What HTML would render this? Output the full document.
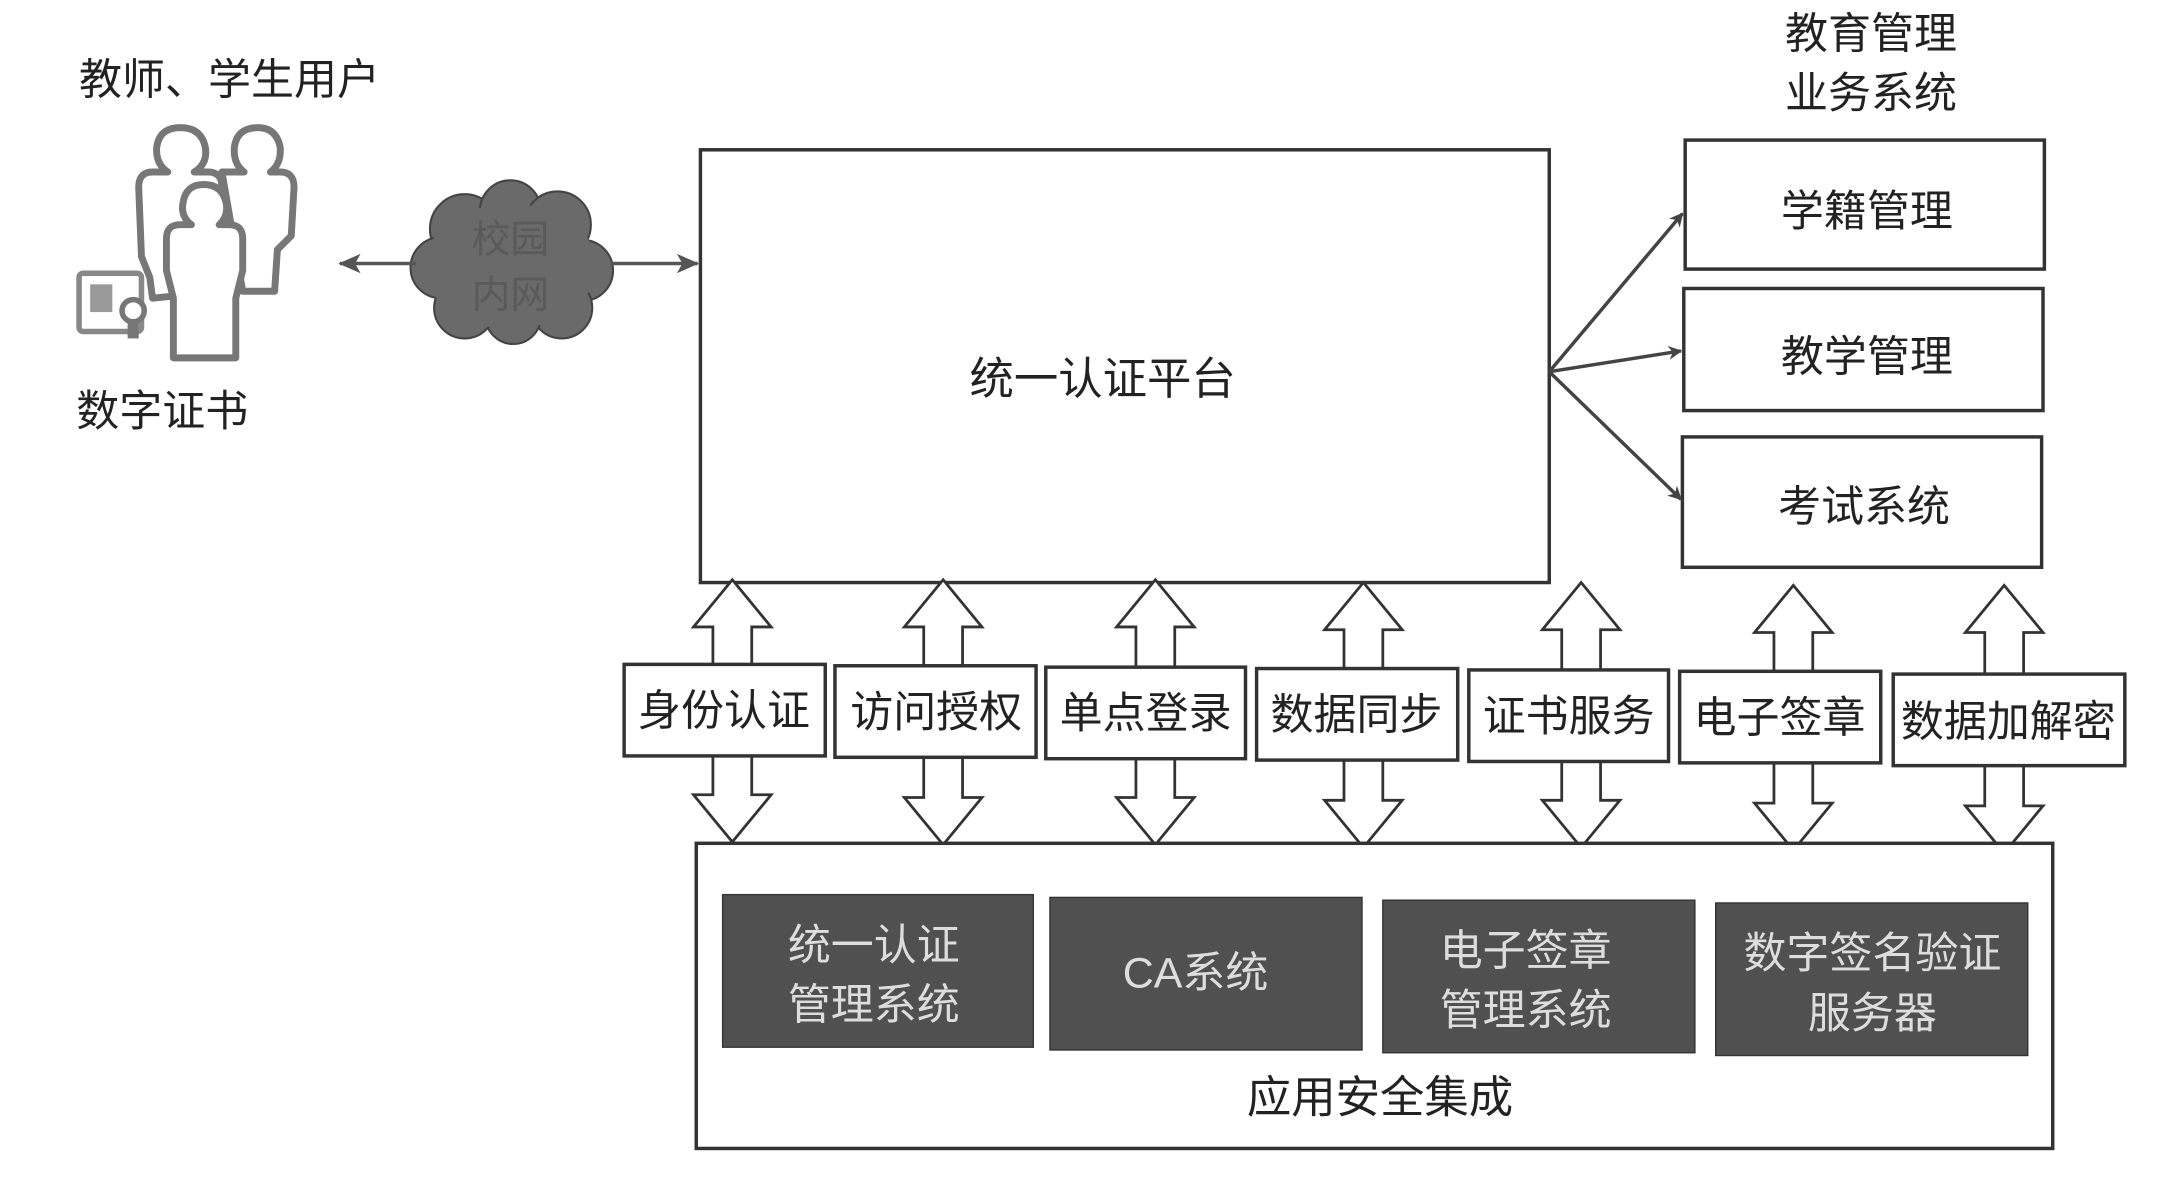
<!DOCTYPE html>
<html><head><meta charset="utf-8"><style>
html,body{margin:0;padding:0;background:#fff;}
svg{display:block;}
text{font-family:"Liberation Sans","Noto Sans CJK SC",sans-serif;}
</style></head><body>
<svg width="2172" height="1178" viewBox="0 0 1566 849.3" preserveAspectRatio="none" xmlns="http://www.w3.org/2000/svg">
<defs>
<marker id="ah" markerWidth="10" markerHeight="10" refX="9" refY="5" orient="auto" markerUnits="userSpaceOnUse">
<path d="M0,0 L10,5 L0,10 L3,5 Z" fill="#444"/></marker>
<marker id="ahs" markerWidth="16" markerHeight="14" refX="15" refY="7" orient="auto-start-reverse" markerUnits="userSpaceOnUse">
<path d="M0,0 L16,7 L0,14 L4,7 Z" fill="#555"/></marker>
</defs>
<text x="57" y="68" font-size="31" fill="#222">教师、学生用户</text>
<text x="55" y="307" font-size="31" fill="#222">数字证书</text>
<g fill="#fff" stroke="#777" stroke-width="5" stroke-linejoin="round">
<path d="M160,210 L160,135 Q160,124 150,124 L140,124 Q150,118 148,106 Q145,92 130,92 Q115,92 113,106 Q112,118 121,124 L110,124 Q100,124 100,135 L102,185 L108,200 L110,215 Z"/>
<path d="M175,210 L198,210 L200,180 L210,170 L212,135 Q212,124 202,124 L195,124 Q203,118 202,106 Q199,92 186,92 Q171,92 169,106 Q168,118 176,124 L160,124 Z"/>
<rect x="57" y="197" width="45" height="42" rx="3" stroke="#888" stroke-width="4"/>
<path d="M170,258 L170,215 L175,195 L175,172 Q175,162 165,162 L158,162 Q165,156 163,146 Q160,133 147,133 Q134,133 132,146 Q130,156 138,162 L130,162 Q120,162 120,172 L120,195 L125,215 L125,258 Z"/>
</g>
<rect x="65" y="205" width="16" height="20" fill="#999"/>
<circle cx="96" cy="224" r="8" fill="#fff" stroke="#777" stroke-width="4"/>
<rect x="92" y="230" width="8" height="14" fill="#777"/>
<g fill="#6a6a6a" stroke="#444" stroke-width="1.5">
<circle cx="335" cy="165" r="25"/><circle cx="368" cy="152" r="22"/><circle cx="402" cy="162" r="24"/>
<circle cx="420" cy="195" r="22"/><circle cx="405" cy="222" r="22"/><circle cx="370" cy="228" r="20"/>
<circle cx="335" cy="222" r="22"/><circle cx="318" cy="193" r="22"/>
</g>
<ellipse cx="368" cy="192" rx="62" ry="45" fill="#6a6a6a"/>
<text x="368" y="182" font-size="28" fill="#5a5a5a" text-anchor="middle">校园</text>
<text x="368" y="222" font-size="28" fill="#5a5a5a" text-anchor="middle">内网</text>
<line x1="300" y1="190" x2="245" y2="190" stroke="#555" stroke-width="2.5" marker-end="url(#ahs)"/>
<line x1="440" y1="190" x2="503" y2="190" stroke="#555" stroke-width="2.5" marker-end="url(#ahs)"/>
<rect x="505" y="108" width="612" height="312" fill="#fff" stroke="#333" stroke-width="2.5"/>
<text x="795" y="284" font-size="32" fill="#222" text-anchor="middle">统一认证平台</text>
<text x="1349" y="35" font-size="31" fill="#222" text-anchor="middle">教育管理</text>
<text x="1349" y="78" font-size="31" fill="#222" text-anchor="middle">业务系统</text>
<g fill="#fff" stroke="#333" stroke-width="2.5">
<rect x="1215" y="101" width="259" height="93"/>
<rect x="1214" y="208" width="259" height="88"/>
<rect x="1213" y="315" width="259" height="94"/>
</g>
<g font-size="31" fill="#222" text-anchor="middle">
<text x="1346" y="163">学籍管理</text>
<text x="1346" y="268">教学管理</text>
<text x="1344" y="376">考试系统</text>
</g>
<g stroke="#444" stroke-width="2.5" marker-end="url(#ah)">
<line x1="1117" y1="268" x2="1213" y2="154"/>
<line x1="1117" y1="268" x2="1212" y2="253"/>
<line x1="1117" y1="268" x2="1212" y2="360"/>
</g>
<g fill="#fff" stroke="#333" stroke-width="2">
<path d="M528,418 L556,452 L542,452 L542,480 L514,480 L514,452 L500,452 Z"/>
<path d="M680,418 L708,452 L694,452 L694,480 L666,480 L666,452 L652,452 Z"/>
<path d="M833,418 L861,452 L847,452 L847,482 L819,482 L819,452 L805,452 Z"/>
<path d="M983,420 L1011,454 L997,454 L997,484 L969,484 L969,454 L955,454 Z"/>
<path d="M1140,420 L1168,454 L1154,454 L1154,486 L1126,486 L1126,454 L1112,454 Z"/>
<path d="M1293,422 L1321,456 L1307,456 L1307,487 L1279,487 L1279,456 L1265,456 Z"/>
<path d="M1445,422 L1473,456 L1459,456 L1459,490 L1431,490 L1431,456 L1417,456 Z"/>
<path d="M514,545 L542,545 L542,573 L556,573 L528,607 L500,573 L514,573 Z"/>
<path d="M666,545 L694,545 L694,575 L708,575 L680,609 L652,575 L666,575 Z"/>
<path d="M819,547 L847,547 L847,575 L861,575 L833,609 L805,575 L819,575 Z"/>
<path d="M969,547 L997,547 L997,577 L1011,577 L983,611 L955,577 L969,577 Z"/>
<path d="M1126,548 L1154,548 L1154,577 L1168,577 L1140,611 L1112,577 L1126,577 Z"/>
<path d="M1279,549 L1307,549 L1307,579 L1321,579 L1293,613 L1265,579 L1279,579 Z"/>
<path d="M1431,552 L1459,552 L1459,581 L1473,581 L1445,615 L1417,581 L1431,581 Z"/>
</g>
<g fill="#fff" stroke="#333" stroke-width="2.5">
<rect x="450" y="479" width="145" height="66"/>
<rect x="602" y="480" width="145" height="66"/>
<rect x="754" y="481" width="144" height="66"/>
<rect x="906" y="482" width="145" height="66"/>
<rect x="1059" y="483" width="144" height="66"/>
<rect x="1211" y="484" width="145" height="66"/>
<rect x="1365" y="486" width="167" height="66"/>
</g>
<g font-size="31" fill="#222" text-anchor="middle">
<text x="522" y="523">身份认证</text>
<text x="675" y="524">访问授权</text>
<text x="826" y="525">单点登录</text>
<text x="978" y="526">数据同步</text>
<text x="1131" y="527">证书服务</text>
<text x="1283" y="528">电子签章</text>
<text x="1448" y="531">数据加解密</text>
</g>
<rect x="502" y="608" width="978" height="220" fill="#fff" stroke="#333" stroke-width="2.5"/>
<g fill="#505050" stroke="#333" stroke-width="1">
<rect x="521" y="645" width="224" height="110"/>
<rect x="757" y="647" width="225" height="110"/>
<rect x="997" y="649" width="225" height="110"/>
<rect x="1237" y="651" width="225" height="110"/>
</g>
<g font-size="31" fill="#ddd" text-anchor="middle">
<text x="630" y="692">统一认证</text>
<text x="630" y="735">管理系统</text>
<text x="862" y="712">CA系统</text>
<text x="1100" y="696">电子签章</text>
<text x="1100" y="739">管理系统</text>
<text x="1350" y="698">数字签名验证</text>
<text x="1350" y="741">服务器</text>
</g>
<text x="995" y="802" font-size="32" fill="#222" text-anchor="middle">应用安全集成</text>
</svg>
</body></html>
